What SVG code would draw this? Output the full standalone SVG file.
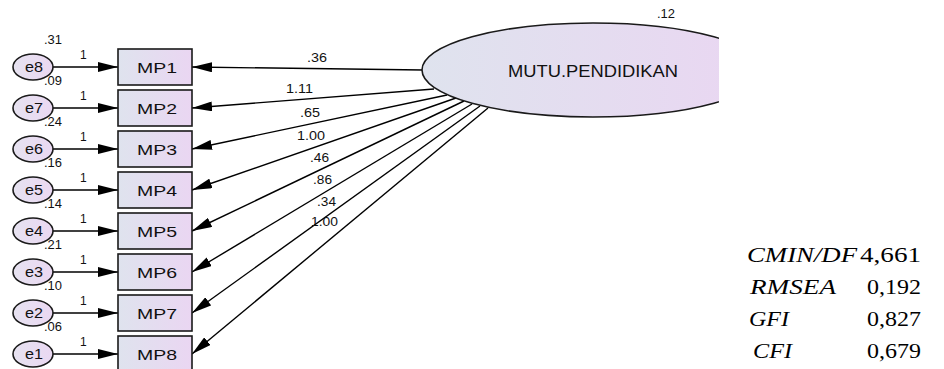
<svg xmlns="http://www.w3.org/2000/svg" width="944" height="369" viewBox="0 0 944 369">
<style>
.box{stroke:#1a1a1a;stroke-width:1.6;fill:url(#g)}
.err{stroke:#1a1a1a;stroke-width:1.6;fill:url(#g2)}
.lbl{font-family:"Liberation Sans",Arial,sans-serif;fill:#111}
.c{stroke:#000;stroke-width:1.4;fill:none;marker-end:url(#ah)}
.fit{font-family:"Liberation Serif","Times New Roman",serif;font-size:22px;fill:#000}
</style>
<defs>
<linearGradient id="g" x1="0" y1="0" x2="1" y2="0"><stop offset="0" stop-color="#dfe3ee"/><stop offset="1" stop-color="#ead6f2"/></linearGradient>
<linearGradient id="g2" x1="0" y1="0" x2="1" y2="0"><stop offset="0" stop-color="#e6e2f0"/><stop offset="1" stop-color="#ead8f2"/></linearGradient>
<marker id="ah" markerWidth="20" markerHeight="10" refX="20" refY="5" orient="auto" markerUnits="userSpaceOnUse"><path d="M0,0 L20,5 L0,10 Z" fill="#000"/></marker>
<clipPath id="clipE"><rect x="0" y="0" width="719" height="369"/></clipPath>
</defs>
<rect width="944" height="369" fill="#fff"/>

<g id="connectors">
<line class="c" x1="53" y1="67" x2="118" y2="67"/>
<line class="c" x1="53" y1="108" x2="118" y2="108"/>
<line class="c" x1="53" y1="149" x2="118" y2="149"/>
<line class="c" x1="53" y1="190" x2="118" y2="190"/>
<line class="c" x1="53" y1="231" x2="118" y2="231"/>
<line class="c" x1="53" y1="272" x2="118" y2="272"/>
<line class="c" x1="53" y1="313" x2="118" y2="313"/>
<line class="c" x1="53" y1="354" x2="118" y2="354"/>
<line class="c" x1="423" y1="70" x2="192" y2="67"/>
<line class="c" x1="434" y1="89" x2="192" y2="108"/>
<line class="c" x1="447" y1="95" x2="192" y2="149"/>
<line class="c" x1="456" y1="98" x2="192" y2="190"/>
<line class="c" x1="464" y1="101" x2="192" y2="231"/>
<line class="c" x1="472" y1="104" x2="192" y2="272"/>
<line class="c" x1="480" y1="106" x2="192" y2="313"/>
<line class="c" x1="488" y1="108" x2="192" y2="354"/>
<g class="lbl" font-size="12">
<text x="80" y="59">1</text>
<text x="80" y="100">1</text>
<text x="80" y="141">1</text>
<text x="80" y="182">1</text>
<text x="80" y="223">1</text>
<text x="80" y="264">1</text>
<text x="80" y="305">1</text>
<text x="80" y="346">1</text>
</g>
<g class="lbl" font-size="13">
<text x="307" y="62" textLength="20" lengthAdjust="spacingAndGlyphs">.36</text>
<text x="286" y="93" textLength="27" lengthAdjust="spacingAndGlyphs">1.11</text>
<text x="300" y="117" textLength="20" lengthAdjust="spacingAndGlyphs">.65</text>
<text x="297" y="140" textLength="28" lengthAdjust="spacingAndGlyphs">1.00</text>
<text x="310" y="162" textLength="19" lengthAdjust="spacingAndGlyphs">.46</text>
<text x="313" y="184" textLength="19" lengthAdjust="spacingAndGlyphs">.86</text>
<text x="317" y="206" textLength="19" lengthAdjust="spacingAndGlyphs">.34</text>
<text x="311" y="226" textLength="27" lengthAdjust="spacingAndGlyphs">1.00</text>
</g>
</g>

<g id="MUTU_PENDIDIKAN">
<ellipse cx="593" cy="70" rx="171" ry="47" class="box" clip-path="url(#clipE)"/>
<text class="lbl" x="593" y="77" font-size="16" text-anchor="middle" textLength="170" lengthAdjust="spacingAndGlyphs">MUTU.PENDIDIKAN</text>
<text class="lbl" x="657" y="18" font-size="12" textLength="18" lengthAdjust="spacingAndGlyphs">.12</text>
</g>

<g id="MP1"><rect class="box" x="118" y="49" width="74" height="36"/><text class="lbl" x="157" y="73" font-size="15" text-anchor="middle" textLength="40" lengthAdjust="spacingAndGlyphs">MP1</text></g>
<g id="MP2"><rect class="box" x="118" y="90" width="74" height="36"/><text class="lbl" x="157" y="114" font-size="15" text-anchor="middle" textLength="40" lengthAdjust="spacingAndGlyphs">MP2</text></g>
<g id="MP3"><rect class="box" x="118" y="131" width="74" height="36"/><text class="lbl" x="157" y="155" font-size="15" text-anchor="middle" textLength="40" lengthAdjust="spacingAndGlyphs">MP3</text></g>
<g id="MP4"><rect class="box" x="118" y="172" width="74" height="36"/><text class="lbl" x="157" y="196" font-size="15" text-anchor="middle" textLength="40" lengthAdjust="spacingAndGlyphs">MP4</text></g>
<g id="MP5"><rect class="box" x="118" y="213" width="74" height="36"/><text class="lbl" x="157" y="237" font-size="15" text-anchor="middle" textLength="40" lengthAdjust="spacingAndGlyphs">MP5</text></g>
<g id="MP6"><rect class="box" x="118" y="254" width="74" height="36"/><text class="lbl" x="157" y="278" font-size="15" text-anchor="middle" textLength="40" lengthAdjust="spacingAndGlyphs">MP6</text></g>
<g id="MP7"><rect class="box" x="118" y="295" width="74" height="36"/><text class="lbl" x="157" y="319" font-size="15" text-anchor="middle" textLength="40" lengthAdjust="spacingAndGlyphs">MP7</text></g>
<g id="MP8"><rect class="box" x="118" y="336" width="74" height="36"/><text class="lbl" x="157" y="360" font-size="15" text-anchor="middle" textLength="40" lengthAdjust="spacingAndGlyphs">MP8</text></g>

<g id="e8"><ellipse class="err" cx="33" cy="67" rx="20" ry="13"/><text class="lbl" x="34" y="72" font-size="15" text-anchor="middle" textLength="18" lengthAdjust="spacingAndGlyphs">e8</text><text class="lbl" x="44" y="44" font-size="12" textLength="18" lengthAdjust="spacingAndGlyphs">.31</text></g>
<g id="e7"><ellipse class="err" cx="33" cy="108" rx="20" ry="13"/><text class="lbl" x="34" y="113" font-size="15" text-anchor="middle" textLength="18" lengthAdjust="spacingAndGlyphs">e7</text><text class="lbl" x="44" y="85" font-size="12" textLength="18" lengthAdjust="spacingAndGlyphs">.09</text></g>
<g id="e6"><ellipse class="err" cx="33" cy="149" rx="20" ry="13"/><text class="lbl" x="34" y="154" font-size="15" text-anchor="middle" textLength="18" lengthAdjust="spacingAndGlyphs">e6</text><text class="lbl" x="44" y="126" font-size="12" textLength="18" lengthAdjust="spacingAndGlyphs">.24</text></g>
<g id="e5"><ellipse class="err" cx="33" cy="190" rx="20" ry="13"/><text class="lbl" x="34" y="195" font-size="15" text-anchor="middle" textLength="18" lengthAdjust="spacingAndGlyphs">e5</text><text class="lbl" x="44" y="167" font-size="12" textLength="18" lengthAdjust="spacingAndGlyphs">.16</text></g>
<g id="e4"><ellipse class="err" cx="33" cy="231" rx="20" ry="13"/><text class="lbl" x="34" y="236" font-size="15" text-anchor="middle" textLength="18" lengthAdjust="spacingAndGlyphs">e4</text><text class="lbl" x="44" y="208" font-size="12" textLength="18" lengthAdjust="spacingAndGlyphs">.14</text></g>
<g id="e3"><ellipse class="err" cx="33" cy="272" rx="20" ry="13"/><text class="lbl" x="34" y="277" font-size="15" text-anchor="middle" textLength="18" lengthAdjust="spacingAndGlyphs">e3</text><text class="lbl" x="44" y="249" font-size="12" textLength="18" lengthAdjust="spacingAndGlyphs">.21</text></g>
<g id="e2"><ellipse class="err" cx="33" cy="313" rx="20" ry="13"/><text class="lbl" x="34" y="318" font-size="15" text-anchor="middle" textLength="18" lengthAdjust="spacingAndGlyphs">e2</text><text class="lbl" x="44" y="290" font-size="12" textLength="18" lengthAdjust="spacingAndGlyphs">.10</text></g>
<g id="e1"><ellipse class="err" cx="33" cy="354" rx="20" ry="13"/><text class="lbl" x="34" y="359" font-size="15" text-anchor="middle" textLength="18" lengthAdjust="spacingAndGlyphs">e1</text><text class="lbl" x="44" y="331" font-size="12" textLength="18" lengthAdjust="spacingAndGlyphs">.06</text></g>

<g id="fit">
<text class="fit" x="747" y="262" font-style="italic" textLength="110" lengthAdjust="spacingAndGlyphs">CMIN/DF</text>
<text class="fit" x="860" y="262" textLength="61" lengthAdjust="spacingAndGlyphs">4,661</text>
<text class="fit" x="750" y="294" font-style="italic" textLength="86" lengthAdjust="spacingAndGlyphs">RMSEA</text>
<text class="fit" x="867" y="294" textLength="54" lengthAdjust="spacingAndGlyphs">0,192</text>
<text class="fit" x="749" y="326" font-style="italic" textLength="40" lengthAdjust="spacingAndGlyphs">GFI</text>
<text class="fit" x="867" y="326" textLength="54" lengthAdjust="spacingAndGlyphs">0,827</text>
<text class="fit" x="753" y="358" font-style="italic" textLength="39" lengthAdjust="spacingAndGlyphs">CFI</text>
<text class="fit" x="867" y="358" textLength="54" lengthAdjust="spacingAndGlyphs">0,679</text>
</g>
</svg>
